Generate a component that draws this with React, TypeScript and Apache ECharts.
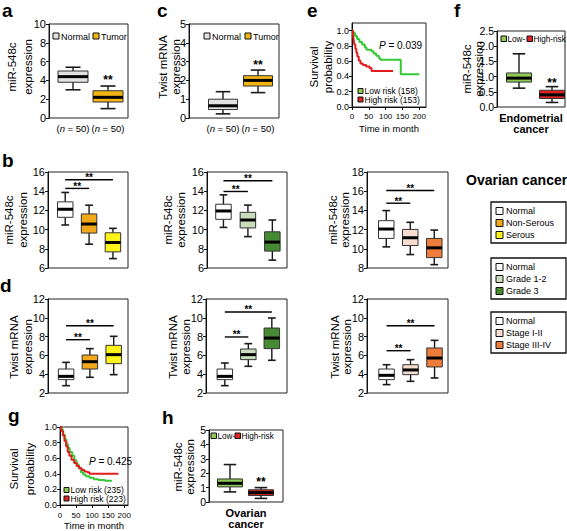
import React, { useEffect, useRef } from 'react';
import * as echarts from 'echarts';

const FONT = '"Liberation Sans", Arial, Helvetica, sans-serif';

// ---------------- data ----------------
// box data: [min, Q1, median, Q3, max]
const tumorCategories = ['Normal', 'Tumor'];
const sampleSizeLabels = ['(n = 50)', '(n = 50)'];
const aMirBoxes = [
  [3.0, 3.8, 4.4, 5.0, 5.4],
  [1.0, 1.7, 2.2, 2.9, 3.4],
];
const aStars = [[1, 1, 4.04]];
const cTwistBoxes = [
  [0.22, 0.45, 0.65, 1.0, 1.4],
  [1.35, 1.7, 2.0, 2.25, 2.55],
];
const cStars = [[1, 1, 2.82]];

const riskCategories = ['Low-', 'High-risk'];
const fEndometrialBoxes = [
  [0.62, 0.82, 0.95, 1.12, 1.75],
  [0.15, 0.28, 0.4, 0.55, 0.67],
];
const fStars = [[1, 1, 0.79]];
const hOvarianBoxes = [
  [0.7, 1.05, 1.3, 1.6, 2.6],
  [0.25, 0.45, 0.65, 0.85, 1.0],
];
const hStars = [[1, 1, 1.4]];

const histologyCategories = ['Normal', 'Non-Serous', 'Serous'];
const gradeCategories = ['Normal', 'Grade 1-2', 'Grade 3'];
const stageCategories = ['Normal', 'Stage I-II', 'Stage III-IV'];

const b1MirHistology = [
  [10.48, 11.28, 12.12, 12.89, 13.87],
  [8.48, 9.64, 10.58, 11.63, 12.54],
  [6.98, 7.68, 8.66, 9.67, 10.13],
];
const b1Brackets = [[0, 1, 14.29], [0, 2, 15.2]];
const b2MirGrade = [
  [10.23, 11.07, 11.94, 12.64, 13.62],
  [9.27, 10.17, 11.0, 11.8, 12.55],
  [6.82, 7.76, 8.7, 9.77, 11.0],
];
const b2Brackets = [[0, 1, 13.97], [0, 2, 15.09]];
const b3MirStage = [
  [10.2, 11.08, 12.06, 12.93, 13.98],
  [9.4, 10.34, 11.15, 12.02, 12.76],
  [8.35, 9.08, 10.1, 11.08, 11.95],
];
const b3Brackets = [[0, 1, 14.75], [0, 2, 16.08]];

const d1TwistHistology = [
  [2.78, 3.42, 3.77, 4.55, 5.26],
  [3.67, 4.55, 5.33, 6.04, 6.72],
  [3.95, 5.12, 6.08, 7.07, 8.03],
];
const d1Brackets = [[0, 1, 7.67], [0, 2, 9.16]];
const d2TwistGrade = [
  [2.78, 3.42, 3.77, 4.55, 5.19],
  [4.84, 5.55, 6.08, 6.68, 7.25],
  [5.48, 6.72, 7.85, 8.91, 9.98],
];
const d2Brackets = [[0, 1, 7.96], [0, 2, 10.62]];
const d3TwistStage = [
  [2.89, 3.42, 3.88, 4.55, 5.01],
  [3.24, 3.95, 4.45, 5.01, 5.55],
  [3.6, 4.77, 5.72, 6.79, 7.6],
];
const d3Brackets = [[0, 1, 6.5], [0, 2, 9.16]];

// Kaplan–Meier curves: [time (months), survival probability]
const eLowRisk = [
  [0, 1.0], [4, 0.97], [9, 0.93], [15, 0.89], [22, 0.85], [30, 0.82], [38, 0.78], [43, 0.75],
  [58, 0.73], [64, 0.7], [72, 0.67], [80, 0.64], [84, 0.62], [145, 0.43], [200, 0.43],
];
const eHighRisk = [
  [0, 1.0], [3, 0.94], [5, 0.88], [7, 0.82], [10, 0.76], [13, 0.71], [16, 0.66], [20, 0.61],
  [25, 0.57], [32, 0.55], [42, 0.53], [52, 0.51], [58, 0.47], [122, 0.47],
];
const gLowRisk = [
  [0, 1.0], [5, 0.96], [10, 0.9], [15, 0.84], [20, 0.78], [25, 0.73], [30, 0.68], [38, 0.63],
  [45, 0.57], [52, 0.52], [58, 0.47], [65, 0.42], [72, 0.39], [80, 0.37], [92, 0.35],
  [105, 0.33], [120, 0.32], [140, 0.31], [160, 0.3],
];
const gHighRisk = [
  [0, 1.0], [4, 0.95], [9, 0.89], [14, 0.82], [19, 0.75], [24, 0.68], [29, 0.63], [36, 0.58],
  [44, 0.54], [52, 0.5], [60, 0.47], [68, 0.45], [76, 0.43], [84, 0.42], [92, 0.4], [182, 0.4],
];
const eLegendLabels = ['Low risk (158)', 'High risk (153)'];
const gLegendLabels = ['Low risk (235)', 'High risk (223)'];
const ePValue = '0.039';
const gPValue = '0.425';
const survivalYTicks = [0, 0.2, 0.4, 0.6, 0.8, 1.0];
const survivalXTicks = [0, 50, 100, 150, 200];

// ---------------- colours ----------------
const COL = {
  normalGray: '#e2e2e2',
  tumor: '#f3b514',
  white: '#ffffff',
  nonSerous: '#f2a81a',
  serous: '#fff31c',
  grade12: '#c9dcbb',
  grade3: '#468a32',
  stage12: '#f9dcd0',
  stage34: '#ee7d3c',
  low: '#8fca55',
  high: '#e02222',
  kmGreen: '#36c936',
  kmRed: '#e01e1e',
};
const histColors = [COL.white, COL.nonSerous, COL.serous];
const gradeColors = [COL.white, COL.grade12, COL.grade3];
const stageColors = [COL.white, COL.stage12, COL.stage34];

function boxRenderer(colors: string[], boxW: number, xLabels?: string[]) {
  return (params: any, api: any) => {
    const i = params.dataIndex;
    const x = api.value(0);
    const pts = [1, 2, 3, 4, 5].map((k) => api.coord([x, api.value(k)]));
    const cx = pts[0][0];
    const yMin = pts[0][1], yQ1 = pts[1][1], yMed = pts[2][1], yQ3 = pts[3][1], yMax = pts[4][1];
    const hw = boxW / 2;
    const cap = boxW / 4;
    const stroke = '#1a1a1a';
    const children: any[] = [
      { type: 'line', shape: { x1: cx, y1: yMax, x2: cx, y2: yQ3 }, style: { stroke, lineWidth: 1.4 } },
      { type: 'line', shape: { x1: cx, y1: yQ1, x2: cx, y2: yMin }, style: { stroke, lineWidth: 1.4 } },
      { type: 'line', shape: { x1: cx - cap, y1: yMax, x2: cx + cap, y2: yMax }, style: { stroke, lineWidth: 1.6 } },
      { type: 'line', shape: { x1: cx - cap, y1: yMin, x2: cx + cap, y2: yMin }, style: { stroke, lineWidth: 1.6 } },
      {
        type: 'rect',
        shape: { x: cx - hw, y: yQ3, width: boxW, height: yQ1 - yQ3 },
        style: { fill: colors[i], stroke: '#333', lineWidth: 1 },
      },
      { type: 'line', shape: { x1: cx - hw, y1: yMed, x2: cx + hw, y2: yMed }, style: { stroke: '#000', lineWidth: 3 } },
    ];
    if (xLabels) {
      const cs = params.coordSys;
      children.push({
        type: 'text',
        x: cx,
        y: cs.y + cs.height + 10,
        style: {
          text: xLabels[i].replace(/\bn\b/, '{i|n}'),
          fontSize: 9.5,
          fontFamily: FONT,
          fill: '#000',
          align: 'center',
          verticalAlign: 'middle',
          textAlign: 'center',
          textVerticalAlign: 'middle',
          rich: { i: { fontStyle: 'italic', fontSize: 9.5, fontFamily: FONT, fill: '#000' } },
        },
      });
    }
    return { type: 'group', children };
  };
}

function sigRenderer(starSize: number) {
  return (params: any, api: any) => {
    const y = api.value(2);
    const p1 = api.coord([api.value(0), y]);
    const p2 = api.coord([api.value(1), y]);
    const hasLine = api.value(0) !== api.value(1);
    const children: any[] = [];
    if (hasLine) {
      children.push({ type: 'line', shape: { x1: p1[0], y1: p1[1], x2: p2[0], y2: p2[1] }, style: { stroke: '#000', lineWidth: 1.4 } });
    }
    children.push({
      type: 'text',
      x: (p1[0] + p2[0]) / 2,
      y: hasLine ? p1[1] - 2 : p1[1],
      style: {
        text: '**',
        fontSize: starSize,
        fontWeight: 'bold',
        fontFamily: FONT,
        fill: '#000',
        align: 'center',
        verticalAlign: 'middle',
        textAlign: 'center',
        textVerticalAlign: 'middle',
      },
    });
    return { type: 'group', children };
  };
}

function txt(text: string, x: number, y: number, size: number, extra: any = {}, elExtra: any = {}) {
  const align = extra.align || 'left';
  return {
    type: 'text',
    x,
    y,
    silent: true,
    ...elExtra,
    style: {
      text,
      fontSize: size,
      fontFamily: FONT,
      fill: '#000',
      align,
      textAlign: align,
      verticalAlign: 'middle',
      textVerticalAlign: 'middle',
      ...extra,
    },
  };
}

function buildOption() {
  const grid: any[] = [];
  const xAxis: any[] = [];
  const yAxis: any[] = [];
  const series: any[] = [];
  const graphic: any[] = [];

  const yAxisCfg = (gi: number, min: number, max: number, interval: number, size: number, fmt?: (v: number) => string, custom?: number[]) => ({
    type: 'value',
    gridIndex: gi,
    min,
    max,
    interval,
    axisLine: { show: true, onZero: false, lineStyle: { color: '#111', width: 1 } },
    axisTick: { show: true, length: 3, lineStyle: { color: '#111' }, ...(custom ? { customValues: custom } : {}) },
    axisLabel: {
      fontSize: size,
      fontFamily: FONT,
      color: '#000',
      margin: 3,
      ...(fmt ? { formatter: fmt } : {}),
      ...(custom ? { customValues: custom } : {}),
    },
    splitLine: { show: false },
  });

  const boxPanels: any[] = [
    { left: 49, top: 24, width: 79, height: 94, ymin: 0, ymax: 10, yint: 2, xmin: -0.686, xmax: 1.571, boxes: aMirBoxes, colors: [COL.normalGray, COL.tumor], boxW: 30, xLabels: sampleSizeLabels, sig: aStars, star: 12, size: 11 },
    { left: 189, top: 24, width: 90, height: 94, ymin: 0, ymax: 5, yint: 1, xmin: -0.971, xmax: 1.6, boxes: cTwistBoxes, colors: [COL.normalGray, COL.tumor], boxW: 29, xLabels: sampleSizeLabels, sig: cStars, star: 12, size: 11 },
    { left: 497, top: 31, width: 68, height: 76, ymin: 0, ymax: 2.5, yint: 0.5, xmin: -0.667, xmax: 1.394, boxes: fEndometrialBoxes, colors: [COL.low, COL.high], boxW: 25, xName: 'Endometrial\ncancer', sig: fStars, star: 12, size: 10.5, fmt: (v: number) => v.toFixed(1) },
    { left: 209, top: 430, width: 74, height: 76, ymin: 0, ymax: 5, yint: 1, xmin: -0.677, xmax: 1.71, boxes: hOvarianBoxes, colors: [COL.low, COL.high], boxW: 25, xName: 'Ovarian\ncancer', sig: hStars, star: 12, size: 10.5 },
    { left: 48, top: 172, width: 80, height: 96, ymin: 6, ymax: 16, yint: 2, xmin: -0.722, xmax: 2.632, boxes: b1MirHistology, colors: histColors, boxW: 15.5, sig: b1Brackets, star: 10, size: 11 },
    { left: 207, top: 172, width: 80, height: 96, ymin: 6, ymax: 16, yint: 2, xmin: -0.673, xmax: 2.599, boxes: b2MirGrade, colors: gradeColors, boxW: 15.5, sig: b2Brackets, star: 10, size: 11 },
    { left: 367, top: 172, width: 81, height: 96, ymin: 8, ymax: 18, yint: 2, xmin: -0.803, xmax: 2.572, boxes: b3MirStage, colors: stageColors, boxW: 15.5, sig: b3Brackets, star: 10, size: 11 },
    { left: 48, top: 299, width: 80, height: 94, ymin: 2, ymax: 12, yint: 2, xmin: -0.76, xmax: 2.601, boxes: d1TwistHistology, colors: histColors, boxW: 15.5, sig: d1Brackets, star: 10, size: 11 },
    { left: 206, top: 299, width: 81, height: 94, ymin: 2, ymax: 12, yint: 2, xmin: -0.801, xmax: 2.646, boxes: d2TwistGrade, colors: gradeColors, boxW: 15.5, sig: d2Brackets, star: 10, size: 11 },
    { left: 367, top: 299, width: 81, height: 94, ymin: 2, ymax: 12, yint: 2, xmin: -0.815, xmax: 2.56, boxes: d3TwistStage, colors: stageColors, boxW: 15.5, sig: d3Brackets, star: 10, size: 11 },
  ];

  boxPanels.forEach((p) => {
    const gi = grid.length;
    grid.push({ left: p.left, top: p.top, width: p.width, height: p.height, show: true, borderColor: '#222', borderWidth: 1, backgroundColor: 'transparent' });
    xAxis.push({
      type: 'value',
      gridIndex: gi,
      min: p.xmin,
      max: p.xmax,
      show: !!p.xName,
      axisLine: { show: false, onZero: false },
      axisTick: { show: false },
      axisLabel: { show: false },
      splitLine: { show: false },
      name: p.xName || '',
      nameLocation: 'middle',
      nameGap: 5,
      nameTextStyle: { fontSize: 11, fontWeight: 'bold', fontFamily: FONT, color: '#000', lineHeight: 11.5 },
    });
    yAxis.push(yAxisCfg(gi, p.ymin, p.ymax, p.yint, p.size, p.fmt));
    series.push({
      type: 'custom',
      xAxisIndex: gi,
      yAxisIndex: gi,
      silent: true,
      clip: false,
      data: p.boxes.map((b: number[], i: number) => [i, ...b]),
      encode: { x: 0, y: [1, 2, 3, 4, 5] },
      renderItem: boxRenderer(p.colors, p.boxW, p.xLabels),
    });
    series.push({
      type: 'custom',
      xAxisIndex: gi,
      yAxisIndex: gi,
      silent: true,
      clip: false,
      data: p.sig,
      encode: { x: [0, 1], y: 2 },
      renderItem: sigRenderer(p.star),
    });
  });

  const kmPanels = [
    { left: 352, top: 23, width: 74, height: 84, xmax: 220, ymax: 1.1, low: eLowRisk, high: eHighRisk, labelMargin: 5, nameGap: 16 },
    { left: 60, top: 427, width: 68, height: 80, xmax: 212, ymax: 1.0, low: gLowRisk, high: gHighRisk, labelMargin: 6, nameGap: 15 },
  ];
  kmPanels.forEach((p) => {
    const gi = grid.length;
    grid.push({ left: p.left, top: p.top, width: p.width, height: p.height, show: true, borderColor: '#222', borderWidth: 1, backgroundColor: 'transparent' });
    xAxis.push({
      type: 'value',
      gridIndex: gi,
      min: 0,
      max: p.xmax,
      interval: 50,
      axisLine: { show: true, onZero: false, lineStyle: { color: '#111' } },
      axisTick: { show: true, length: 3, lineStyle: { color: '#111' }, customValues: survivalXTicks },
      axisLabel: { fontSize: 8, fontFamily: FONT, color: '#000', margin: p.labelMargin, customValues: survivalXTicks },
      splitLine: { show: false },
      name: 'Time in month',
      nameLocation: 'middle',
      nameGap: p.nameGap,
      nameTextStyle: { fontSize: 9.5, fontFamily: FONT, color: '#000' },
    });
    yAxis.push(yAxisCfg(gi, 0, p.ymax, 0.2, 9, (v: number) => v.toFixed(1), survivalYTicks));
    series.push({
      type: 'line', name: 'Low risk', xAxisIndex: gi, yAxisIndex: gi, step: 'end', showSymbol: false, symbol: 'none',
      lineStyle: { color: COL.kmGreen, width: 2 }, data: p.low, silent: true,
    });
    series.push({
      type: 'line', name: 'High risk', xAxisIndex: gi, yAxisIndex: gi, step: 'end', showSymbol: false, symbol: 'none',
      lineStyle: { color: COL.kmRed, width: 2 }, data: p.high, silent: true,
    });
  });

  // panel letters
  const letters: [string, number, number][] = [
    ['a', 2, 10], ['b', 2, 160], ['c', 157, 10], ['d', 0, 285],
    ['e', 307, 10], ['f', 454, 10], ['g', 8, 415], ['h', 162, 417],
  ];
  letters.forEach(([t, x, y]) => graphic.push(txt(t, x, y, 19, { fontWeight: 'bold' })));

  // rotated y-axis titles
  const yTitles: [string, number, number, number][] = [
    ['miR-548c\nexpression', 20, 67, 15.5],
    ['Twist mRNA\nexpression', 169, 67, 13],
    ['Survival\nprobability', 320.5, 67, 14],
    ['miR-548c\nexpression', 473, 69, 12.5],
    ['miR-548c\nexpression', 16, 220, 13.5],
    ['miR-548c\nexpression', 174.5, 220, 13],
    ['miR-548c\nexpression', 339, 220, 12.5],
    ['Twist mRNA\nexpression', 20.5, 347, 14],
    ['Twist mRNA\nexpression', 179.5, 347, 13],
    ['Twist mRNA\nexpression', 341, 347, 12.5],
    ['Survival\nprobability', 22, 469, 16],
    ['miR-548c\nexpression', 184, 467, 12.5],
  ];
  yTitles.forEach(([t, x, y, lh]) =>
    graphic.push(txt(t, x, y, 11.5, { align: 'center', lineHeight: lh }, { rotation: Math.PI / 2 }))
  );

  const sq = (x: number, y: number, s: number, fill: string) => ({
    type: 'rect', silent: true, shape: { x, y, width: s, height: s }, style: { fill, stroke: '#111', lineWidth: 1 },
  });

  // inner legends of a, c
  [[53, 93], [204, 245]].forEach(([x1, x2]) => {
    graphic.push(sq(x1, 33, 6, COL.normalGray), txt(tumorCategories[0], x1 + 8, 36.5, 9));
    graphic.push(sq(x2, 33, 6, COL.tumor), txt(tumorCategories[1], x2 + 8, 36.5, 9));
  });
  // inner legends of f, h
  [[501, 527, 39], [211, 235, 436]].forEach(([x1, x2, y]) => {
    graphic.push(sq(x1, y - 3, 5.5, COL.low), txt(riskCategories[0], x1 + 6.5, y, 8.2));
    graphic.push(sq(x2, y - 3, 5.5, COL.high), txt(riskCategories[1], x2 + 6.5, y, 8.2));
  });
  // KM legends
  [[358, 91, eLegendLabels], [64, 490, gLegendLabels]].forEach(([x, y, labels]: any) => {
    graphic.push(sq(x, y - 2.5, 5, COL.low), txt(labels[0], x + 6.5, y, 8.5));
    graphic.push(sq(x, y + 6, 5, COL.high), txt(labels[1], x + 6.5, y + 8.5, 8.5));
  });
  // P values
  [[379, 45, ePValue], [89, 461, gPValue]].forEach(([x, y, v]: any) => {
    graphic.push(
      txt('{i|P} = ' + v, x, y, 10, {
        rich: { i: { fontStyle: 'italic', fontSize: 10, fontFamily: FONT, fill: '#000' } },
      })
    );
  });

  // Ovarian cancer legend
  graphic.push(txt('Ovarian cancer', 466, 180, 14, { fontWeight: 'bold' }));
  const legendGroups: [string[], string[], number][] = [
    [histologyCategories, histColors, 202],
    [gradeCategories, gradeColors, 258],
    [stageCategories, stageColors, 312],
  ];
  legendGroups.forEach(([names, colors, top]) => {
    graphic.push({ type: 'rect', silent: true, shape: { x: 491, y: top, width: 75, height: 41 }, style: { fill: '#fff', stroke: '#111', lineWidth: 1.3 } });
    names.forEach((n, i) => {
      const cy = top + 9 + i * 12;
      graphic.push(sq(496, cy - 3.5, 7, colors[i]), txt(n, 506, cy, 9));
    });
  });

  return {
    animation: false,
    backgroundColor: '#fff',
    textStyle: { fontFamily: FONT },
    grid,
    xAxis,
    yAxis,
    series,
    graphic: { elements: graphic },
  };
}

export default function App() {
  const ref = useRef<HTMLDivElement>(null);
  useEffect(() => {
    if (!ref.current) return;
    const chart = echarts.init(ref.current, null, { renderer: 'svg' });
    chart.setOption(buildOption() as any);
    return () => chart.dispose();
  }, []);
  return (
    <div
      ref={ref}
      style={{ position: 'fixed', left: 0, top: 0, width: 567, height: 531, background: '#fff' }}
    />
  );
}
